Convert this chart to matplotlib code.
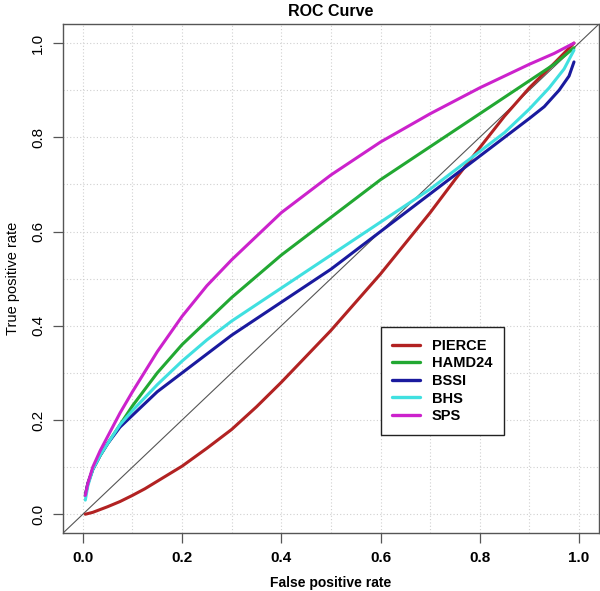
import matplotlib
matplotlib.use("Agg")
import matplotlib.pyplot as plt
from matplotlib.ticker import MultipleLocator

plt.rcParams["font.family"] = ["Liberation Sans", "DejaVu Sans"]

# ------------------------------------------------------------
# ROC curves (FPR, TPR)
# ------------------------------------------------------------
PIERCE_FPR = [0.005, 0.02, 0.05, 0.075, 0.1, 0.125, 0.15, 0.2, 0.25, 0.3, 0.35, 0.4,
              0.45, 0.5, 0.55, 0.6, 0.65, 0.7, 0.75, 0.8, 0.85, 0.9, 0.95, 0.99]
PIERCE_TPR = [0.0, 0.004, 0.016, 0.027, 0.04, 0.054, 0.07, 0.102, 0.14, 0.18, 0.228, 0.28,
              0.335, 0.39, 0.45, 0.51, 0.575, 0.64, 0.71, 0.778, 0.845, 0.905, 0.957, 1.0]

HAMD_FPR = [0.005, 0.01, 0.02, 0.035, 0.05, 0.075, 0.1, 0.15, 0.2, 0.25, 0.3, 0.4,
            0.5, 0.6, 0.7, 0.8, 0.9, 0.95, 0.99]
HAMD_TPR = [0.04, 0.065, 0.095, 0.125, 0.15, 0.19, 0.23, 0.30, 0.36, 0.41, 0.46, 0.55,
            0.63, 0.71, 0.78, 0.85, 0.92, 0.955, 0.99]

BSSI_FPR = [0.005, 0.01, 0.02, 0.035, 0.05, 0.075, 0.1, 0.15, 0.2, 0.25, 0.3, 0.4,
            0.5, 0.6, 0.7, 0.8, 0.85, 0.9, 0.93, 0.96, 0.98, 0.99]
BSSI_TPR = [0.04, 0.065, 0.095, 0.125, 0.15, 0.185, 0.21, 0.26, 0.30, 0.34, 0.38, 0.45,
            0.52, 0.60, 0.68, 0.76, 0.80, 0.84, 0.865, 0.90, 0.93, 0.96]

BHS_FPR = [0.005, 0.01, 0.02, 0.035, 0.05, 0.075, 0.1, 0.15, 0.2, 0.25, 0.3, 0.4,
           0.5, 0.6, 0.7, 0.8, 0.85, 0.9, 0.94, 0.97, 0.99]
BHS_TPR = [0.03, 0.06, 0.095, 0.125, 0.15, 0.19, 0.22, 0.275, 0.325, 0.37, 0.41, 0.48,
           0.55, 0.62, 0.69, 0.77, 0.81, 0.86, 0.905, 0.945, 0.985]

SPS_FPR = [0.005, 0.01, 0.02, 0.035, 0.05, 0.075, 0.1, 0.15, 0.2, 0.25, 0.3, 0.4,
           0.5, 0.6, 0.7, 0.8, 0.9, 0.95, 0.99]
SPS_TPR = [0.04, 0.065, 0.10, 0.135, 0.165, 0.215, 0.26, 0.345, 0.42, 0.485, 0.54, 0.64,
           0.72, 0.79, 0.85, 0.905, 0.955, 0.978, 1.0]

SERIES = [
    ("PIERCE", PIERCE_FPR, PIERCE_TPR, "#b22222"),
    ("HAMD24", HAMD_FPR, HAMD_TPR, "#22a832"),
    ("BSSI", BSSI_FPR, BSSI_TPR, "#1a1a9e"),
    ("BHS", BHS_FPR, BHS_TPR, "#40e0e0"),
    ("SPS", SPS_FPR, SPS_TPR, "#cc22cc"),
]

TICKS = [0.0, 0.2, 0.4, 0.6, 0.8, 1.0]


def main():
    fig = plt.figure(figsize=(6.0, 5.91), dpi=100)
    ax = fig.add_axes([0.105, 0.098, 0.893, 0.861])

    ax.set_xlim(-0.04, 1.04)
    ax.set_ylim(-0.04, 1.04)

    # dotted grid every 0.1
    ax.xaxis.set_minor_locator(MultipleLocator(0.1))
    ax.yaxis.set_minor_locator(MultipleLocator(0.1))
    ax.grid(True, which="both", linestyle=(0, (1, 2)), color="#d0d0d0", linewidth=0.8)
    ax.tick_params(which="minor", length=0)
    ax.set_axisbelow(True)

    # chance line
    ax.plot([-0.04, 1.04], [-0.04, 1.04], color="#555555", linewidth=0.8, zorder=2)

    for name, fpr, tpr, color in SERIES:
        ax.plot(fpr, tpr, color=color, linewidth=2.2, label=name,
                solid_capstyle="round", solid_joinstyle="round", zorder=3)

    ax.set_xticks(TICKS)
    ax.set_yticks(TICKS)
    ax.set_xticklabels([f"{t:.1f}" for t in TICKS], fontsize=11, fontweight="bold")
    ax.set_yticklabels([f"{t:.1f}" for t in TICKS], fontsize=11, rotation=90, va="center")
    ax.tick_params(which="major", direction="out", length=7, width=0.9, color="#555555", pad=6)

    for spine in ax.spines.values():
        spine.set_color("#555555")
        spine.set_linewidth(1.0)

    ax.set_xlabel("False positive rate", fontsize=10, fontweight="bold", labelpad=8)
    ax.set_ylabel("True positive rate", fontsize=10.5, labelpad=8)
    ax.set_title("ROC Curve", fontsize=11.5, fontweight="bold", pad=6)

    leg = ax.legend(loc="upper left", bbox_to_anchor=(0.593, 0.405), fancybox=False,
                    framealpha=1.0, edgecolor="#222222", handlelength=1.9,
                    borderpad=0.8, borderaxespad=0.0, labelspacing=0.25,
                    handletextpad=0.8, prop={"size": 10.5, "weight": "bold"})
    leg.get_frame().set_linewidth(1.0)
    for line in leg.get_lines():
        line.set_linewidth(2.4)

    fig.savefig("out.png", dpi=100)
    plt.close(fig)


if __name__ == "__main__":
    main()
